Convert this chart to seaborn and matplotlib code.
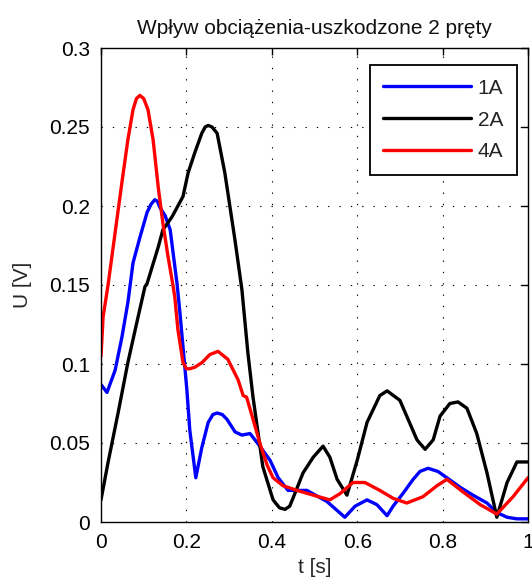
import numpy as np
import pandas as pd
import matplotlib
matplotlib.use("Agg")
import matplotlib.pyplot as plt
import seaborn as sns

# ---- data ----
t_1A = [0.0, 0.014, 0.033, 0.049, 0.063, 0.075, 0.091, 0.108, 0.117, 0.126, 0.132, 0.138, 0.150,
        0.162, 0.169, 0.178, 0.185, 0.192, 0.201, 0.208, 0.222, 0.236, 0.251, 0.262, 0.272, 0.284,
        0.295, 0.314, 0.330, 0.349, 0.372, 0.396, 0.415, 0.438, 0.482, 0.529, 0.571, 0.595, 0.623,
        0.646, 0.670, 0.684, 0.707, 0.731, 0.747, 0.766, 0.789, 0.810, 0.841, 0.871, 0.904, 0.927,
        0.951, 0.974, 1.0]
u_1A = [0.087, 0.082, 0.096, 0.117, 0.139, 0.164, 0.180, 0.196, 0.201, 0.204, 0.203, 0.199, 0.194,
        0.185, 0.170, 0.151, 0.132, 0.111, 0.084, 0.058, 0.028, 0.047, 0.063, 0.068, 0.069, 0.068,
        0.065, 0.057, 0.055, 0.056, 0.048, 0.039, 0.028, 0.020, 0.020, 0.013, 0.003, 0.010, 0.014,
        0.011, 0.004, 0.010, 0.018, 0.027, 0.032, 0.034, 0.032, 0.028, 0.022, 0.017, 0.012, 0.006,
        0.003, 0.002, 0.002]

t_2A = [0.0, 0.016, 0.040, 0.063, 0.087, 0.103, 0.108, 0.134, 0.145, 0.166, 0.192, 0.204, 0.220,
        0.236, 0.244, 0.251, 0.260, 0.272, 0.290, 0.314, 0.330, 0.344, 0.356, 0.379, 0.403, 0.418,
        0.431, 0.442, 0.454, 0.473, 0.497, 0.520, 0.536, 0.553, 0.576, 0.600, 0.623, 0.653, 0.670,
        0.700, 0.716, 0.740, 0.759, 0.778, 0.794, 0.817, 0.836, 0.857, 0.880, 0.904, 0.927, 0.951,
        0.974, 1.0]
u_2A = [0.014, 0.037, 0.069, 0.101, 0.130, 0.149, 0.151, 0.174, 0.185, 0.193, 0.206, 0.221, 0.234,
        0.246, 0.250, 0.251, 0.250, 0.246, 0.221, 0.178, 0.147, 0.107, 0.079, 0.035, 0.014, 0.009,
        0.008, 0.010, 0.018, 0.031, 0.041, 0.048, 0.041, 0.027, 0.017, 0.039, 0.063, 0.080, 0.083,
        0.077, 0.067, 0.052, 0.046, 0.052, 0.067, 0.075, 0.076, 0.072, 0.056, 0.031, 0.003, 0.025,
        0.038, 0.038]

t_4A = [0.0, 0.005, 0.016, 0.033, 0.049, 0.063, 0.075, 0.083, 0.091, 0.100, 0.110, 0.122, 0.134,
        0.145, 0.157, 0.169, 0.173, 0.180, 0.192, 0.200, 0.208, 0.220, 0.237, 0.255, 0.274, 0.297,
        0.321, 0.333, 0.341, 0.356, 0.372, 0.389, 0.403, 0.426, 0.459, 0.497, 0.536, 0.560, 0.590,
        0.618, 0.653, 0.684, 0.716, 0.754, 0.787, 0.810, 0.848, 0.888, 0.927, 0.965, 1.0]
u_4A = [0.105, 0.130, 0.149, 0.183, 0.215, 0.242, 0.261, 0.268, 0.270, 0.268, 0.261, 0.242, 0.212,
        0.189, 0.168, 0.149, 0.142, 0.122, 0.101, 0.097, 0.097, 0.098, 0.101, 0.106, 0.108, 0.103,
        0.090, 0.080, 0.079, 0.065, 0.050, 0.036, 0.028, 0.023, 0.020, 0.017, 0.014, 0.018, 0.025,
        0.025, 0.020, 0.015, 0.012, 0.016, 0.023, 0.027, 0.019, 0.011, 0.005, 0.016, 0.028]

series_names = ["1A", "2A", "4A"]
series_colors = ["#0000ff", "#000000", "#ff0000"]
x_ticks = [0, 0.2, 0.4, 0.6, 0.8, 1.0]
x_tick_labels = ["0", "0.2", "0.4", "0.6", "0.8", "1"]
y_ticks = [0, 0.05, 0.1, 0.15, 0.2, 0.25, 0.3]
y_tick_labels = ["0", "0.05", "0.1", "0.15", "0.2", "0.25", "0.3"]
title = "Wpływ obciążenia-uszkodzone 2 pręty"
x_label = "t [s]"
y_label = "U [V]"

df = pd.concat([
    pd.DataFrame({"t": t_1A, "U": u_1A, "series": "1A"}),
    pd.DataFrame({"t": t_2A, "U": u_2A, "series": "2A"}),
    pd.DataFrame({"t": t_4A, "U": u_4A, "series": "4A"}),
], ignore_index=True)

sns.set_style("white")
plt.rcParams["font.family"] = ["Liberation Sans", "DejaVu Sans"]
FS = 15

fig = plt.figure(figsize=(5.32, 5.85), dpi=100)
ax = fig.add_axes([101 / 532, 1 - 522 / 585, 427 / 532, 474 / 585])

sns.lineplot(data=df, x="t", y="U", hue="series", hue_order=series_names,
             palette=dict(zip(series_names, series_colors)), estimator=None,
             sort=False, linewidth=2.4, ax=ax)
for ln in ax.get_lines():
    ln.set_solid_joinstyle("round")
    ln.set_solid_capstyle("round")

ax.set_xlim(0, 1)
ax.set_ylim(0, 0.3)
ax.set_xticks(x_ticks)
ax.set_xticklabels(x_tick_labels)
ax.set_yticks(y_ticks)
ax.set_yticklabels(y_tick_labels)
ax.tick_params(direction="in", length=5, width=1, top=True, right=True,
               labelsize=FS, colors="black", pad=8)
ax.grid(True, color="black", linestyle=(0, (1.2, 9.0)), linewidth=0.8)
for s in ax.spines.values():
    s.set_color("black")
    s.set_linewidth(1.0)
    s.set_visible(True)

ax.set_title(title, fontsize=FS, pad=10, color="#111111")
ax.set_xlabel(x_label, fontsize=FS, labelpad=4)
ax.set_ylabel(y_label, fontsize=FS, labelpad=12)

leg = ax.legend(loc="upper right", bbox_to_anchor=(0.974, 0.964), borderaxespad=0,
                fontsize=FS, handlelength=4.2, handletextpad=0.35, labelspacing=0.62,
                frameon=True, fancybox=False, framealpha=1, edgecolor="black",
                borderpad=0.65)
leg.get_frame().set_linewidth(1.3)
for line in leg.get_lines():
    line.set_linewidth(2.4)

fig.savefig("out.png", dpi=100)
